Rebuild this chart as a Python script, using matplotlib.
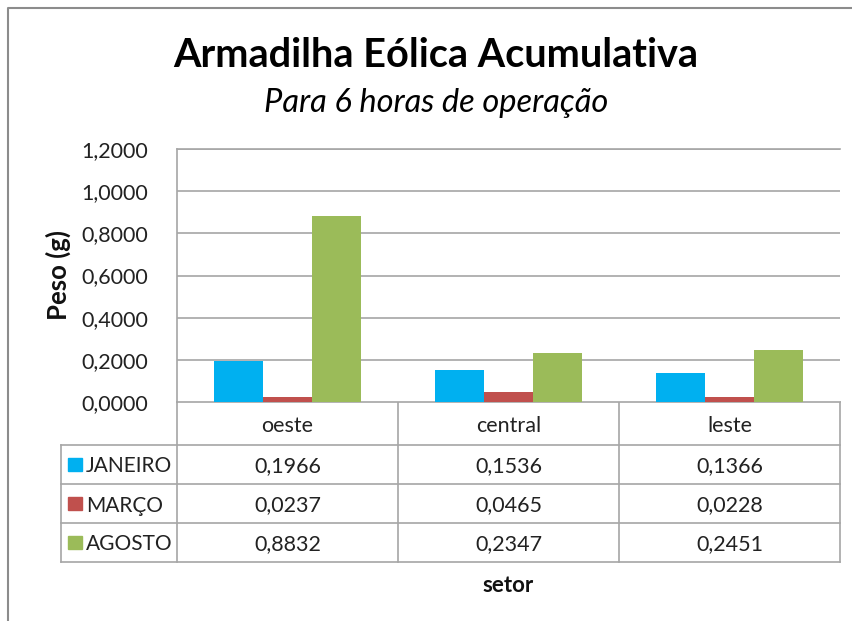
import matplotlib
matplotlib.use("Agg")
import matplotlib.pyplot as plt
import numpy as np

categories = ["oeste", "central", "leste"]
series_names = ["JANEIRO", "MARÇO", "AGOSTO"]
janeiro = [0.1966, 0.1536, 0.1366]
marco = [0.0237, 0.0465, 0.0228]
agosto = [0.8832, 0.2347, 0.2451]
yticks = [0.0, 0.2, 0.4, 0.6, 0.8, 1.0, 1.2]
colors = ["#00B0F0", "#C0504D", "#9BBB59"]

series = [janeiro, marco, agosto]

plt.rcParams['font.family'] = ['Lato', 'DejaVu Sans']

W, H = 853, 621
fig = plt.figure(figsize=(W / 100, H / 100), dpi=100)

def fx(px):
    return px / W

def fy(py):
    return 1 - py / H

# overlay axes in pixel coordinates for frame / table
ov = fig.add_axes([0, 0, 1, 1])
ov.set_xlim(0, W)
ov.set_ylim(H, 0)
ov.axis("off")

# outer chart frame (partly cut)
ov.plot([8, 8, W + 5], [H + 5, 8, 8], color="#8C8C8C", lw=1.5, clip_on=False)

# main axes
L, R, T, B = 177, 840, 149, 402
ax = fig.add_axes([fx(L), fy(B), fx(R - L), (B - T) / H])
x = np.arange(len(categories))
bw = 1 / 4.5
for i, (vals, c) in enumerate(zip(series, colors)):
    ax.bar(x + (i - 1) * bw, vals, width=bw, color=c, zorder=3)
ax.set_xlim(-0.5, len(categories) - 0.5)
ax.set_ylim(0, 1.2)
ax.set_yticks(yticks)
ax.set_yticklabels([f"{v:.4f}".replace(".", ",") for v in yticks], fontsize=15.5, color="#222222")
ax.set_xticks([])
ax.tick_params(axis="y", length=0, pad=21)
ax.grid(axis="y", color="#A6A6A6", lw=1.2, zorder=0)
for s in ["right", "bottom"]:
    ax.spines[s].set_visible(False)
for s in ["left", "top"]:
    ax.spines[s].set_color("#A6A6A6")
    ax.spines[s].set_linewidth(1.2)

ov.text(58, 275, "Peso (g)", rotation=90, ha="center", va="center",
        fontsize=18.5, fontweight="bold", color="#111111")

# data table
col_edges = [L + (R - L) * k / len(categories) for k in range(len(categories) + 1)]
tab_left = 61
row_edges = [B, 445, 484, 523, 562]
lc = "#A6A6A6"
for xe in col_edges:
    ov.plot([xe, xe], [row_edges[0], row_edges[-1]], color=lc, lw=1.2)
ov.plot([tab_left, tab_left], [row_edges[1], row_edges[-1]], color=lc, lw=1.2)
ov.plot([L, R], [row_edges[0], row_edges[0]], color=lc, lw=1.2)
for ye in row_edges[1:]:
    ov.plot([tab_left, R], [ye, ye], color=lc, lw=1.2)

# header
for k, cat in enumerate(categories):
    xc = (col_edges[k] + col_edges[k + 1]) / 2
    ov.text(xc, (row_edges[0] + row_edges[1]) / 2 + 8.5, cat, ha="center", va="baseline",
            fontsize=15.5, color="#222222")
# rows
for r, (name, vals, c) in enumerate(zip(series_names, series, colors)):
    yc = (row_edges[r + 1] + row_edges[r + 2]) / 2
    ov.add_patch(plt.Rectangle((68, yc - 7), 14, 13.5, color=c))
    ov.text(86, yc + 8, name, ha="left", va="baseline", fontsize=15, color="#222222")
    for k, v in enumerate(vals):
        xc = (col_edges[k] + col_edges[k + 1]) / 2
        ov.text(xc, yc + 8, f"{v:.4f}".replace(".", ","), ha="center", va="baseline",
                fontsize=15.5, color="#222222")

ov.text((L + R) / 2, 592, "setor", ha="center", va="baseline", fontsize=16,
        fontweight="bold", color="#111111")

# titles
ov.text(436, 67, "Armadilha Eólica Acumulativa", ha="center", va="baseline",
        fontsize=28.5, fontweight="bold", color="#000000")
ov.text(436, 112, "Para 6 horas de operação", ha="center", va="baseline",
        fontsize=23.5, fontstyle="italic", fontweight="normal", color="#000000")

fig.savefig("out.png", dpi=100)
